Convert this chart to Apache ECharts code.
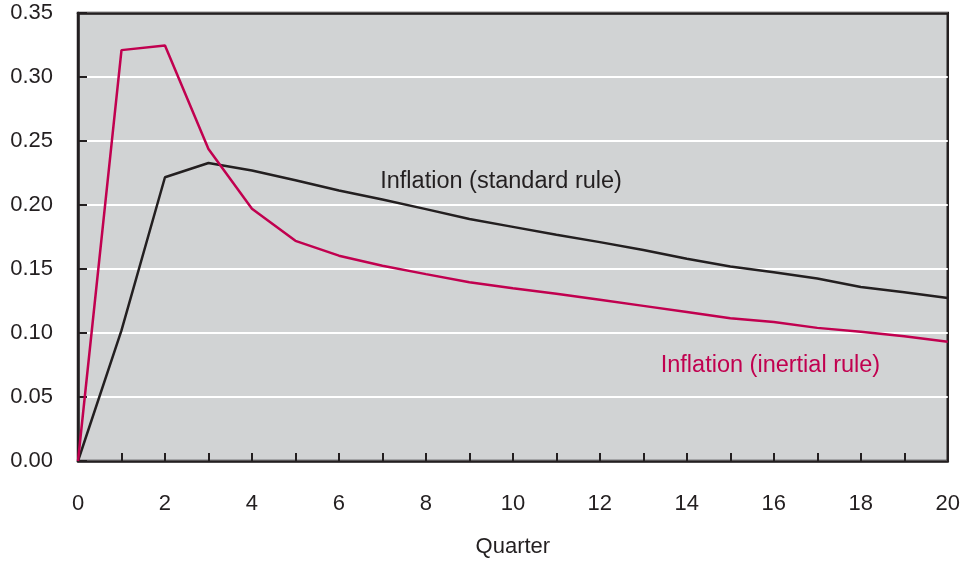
<!DOCTYPE html>
<html>
<head>
<meta charset="utf-8">
<script src="https://cdn.jsdelivr.net/npm/echarts@6/dist/echarts.min.js"></script>
<style>
html,body{margin:0;padding:0;background:#fff;}
#chart{width:963px;height:563px;}
</style>
</head>
<body>
<div id="chart"></div>
<script>
const quarters = [0,1,2,3,4,5,6,7,8,9,10,11,12,13,14,15,16,17,18,19,20];
const standardRule = [0,0.102,0.2217,0.2328,0.2269,0.2194,0.2113,0.2043,0.1968,0.1890,0.1829,0.1767,0.1710,0.1648,0.1580,0.1519,0.1474,0.1425,0.1360,0.1318,0.1273];
const inertialRule = [0,0.321,0.3246,0.2437,0.1970,0.1720,0.1604,0.1526,0.1460,0.1397,0.1350,0.1306,0.1260,0.1212,0.1164,0.1116,0.1086,0.1040,0.1009,0.0975,0.0931];
const standardName = 'Inflation (standard rule)';
const inertialName = 'Inflation (inertial rule)';
const xTitle = 'Quarter';

const chart = echarts.init(document.getElementById('chart'), null, {renderer:'canvas'});
const font = '"Liberation Sans", Arial, sans-serif';
const ink = '#231f20';
chart.setOption({
  animation:false,
  backgroundColor:'#ffffff',
  grid:{left:78,right:15,top:13,bottom:98,show:true,backgroundColor:'#d1d3d4',borderColor:ink,borderWidth:2.5},
  xAxis:[{
    type:'value',min:0,max:20,interval:1,
    name:xTitle,nameLocation:'middle',nameGap:75,
    nameTextStyle:{fontFamily:font,fontSize:22,color:ink},
    axisLine:{show:true,lineStyle:{color:ink,width:2.5}},
    axisTick:{show:true,inside:true,length:8,lineStyle:{color:ink,width:2}},
    axisLabel:{margin:32,fontFamily:font,fontSize:22,color:ink,
      formatter:function(v){return v%2===0?String(v):'';}},
    splitLine:{show:false}
  },{
    type:'value',min:0,max:20,position:'top',z:10,
    axisLine:{show:true,lineStyle:{color:ink,width:2.5}},
    axisTick:{show:false},axisLabel:{show:false},splitLine:{show:false}
  }],
  yAxis:{
    type:'value',min:0,max:0.35,interval:0.05,
    axisLine:{show:true,lineStyle:{color:ink,width:2.5}},
    axisTick:{show:true,inside:true,length:9,lineStyle:{color:ink,width:2}},
    axisLabel:{margin:25,fontFamily:font,fontSize:22,color:ink,padding:[7,0,0,0],
      formatter:function(v){return v.toFixed(2);}},
    splitLine:{show:true,lineStyle:{color:'#ffffff',width:2}}
  },
  series:[
    {name:standardName,type:'line',data:quarters.map((q,i)=>[q,standardRule[i]]),
     showSymbol:false,lineStyle:{color:ink,width:2.5},z:3,
     markPoint:{symbol:'rect',symbolSize:0,silent:true,data:[{coord:[6.95,0.2185],
       label:{show:true,position:'right',distance:0,formatter:standardName,fontFamily:font,fontSize:23.5,color:ink}}]}},
    {name:inertialName,type:'line',data:quarters.map((q,i)=>[q,inertialRule[i]]),
     showSymbol:false,lineStyle:{color:'#c1004f',width:2.5},z:4,
     markPoint:{symbol:'rect',symbolSize:0,silent:true,data:[{coord:[13.4,0.0745],
       label:{show:true,position:'right',distance:0,formatter:inertialName,fontFamily:font,fontSize:23.5,color:'#c1004f'}}]}}
  ]
});
</script>
</body>
</html>
